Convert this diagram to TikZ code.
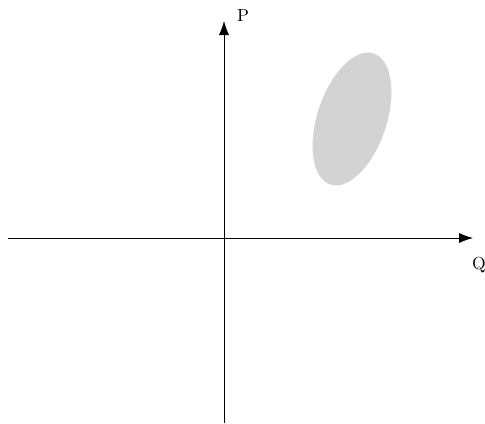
\documentclass[tikz,border=0pt]{standalone}
\usetikzlibrary{arrows.meta}
\definecolor{blobgray}{RGB}{211,211,211}
\begin{document}
\begin{tikzpicture}[x=0.5714pt,y=0.5714pt,
  axis/.style={line width=0.45pt,-{Latex[length=8pt,width=5.8pt]}},
  lbl/.style={inner sep=0pt}]
\useasboundingbox (0,0) rectangle (485,423);
\coordinate (xs) at (8,185);
\coordinate (xe) at (473,185);
\coordinate (ys) at (224,0);
\coordinate (ye) at (224,402);
\fill[blobgray,rotate around={71.7:(352,304)}] (352,304) ellipse [x radius=69, y radius=34.7];
\draw[axis] (xs) -- (xe);
\draw[axis] (ys) -- (ye);
\node[lbl] (P) at (243,407) {P};
\node[lbl] (Q) at (479,158) {Q};
\end{tikzpicture}
\end{document}
